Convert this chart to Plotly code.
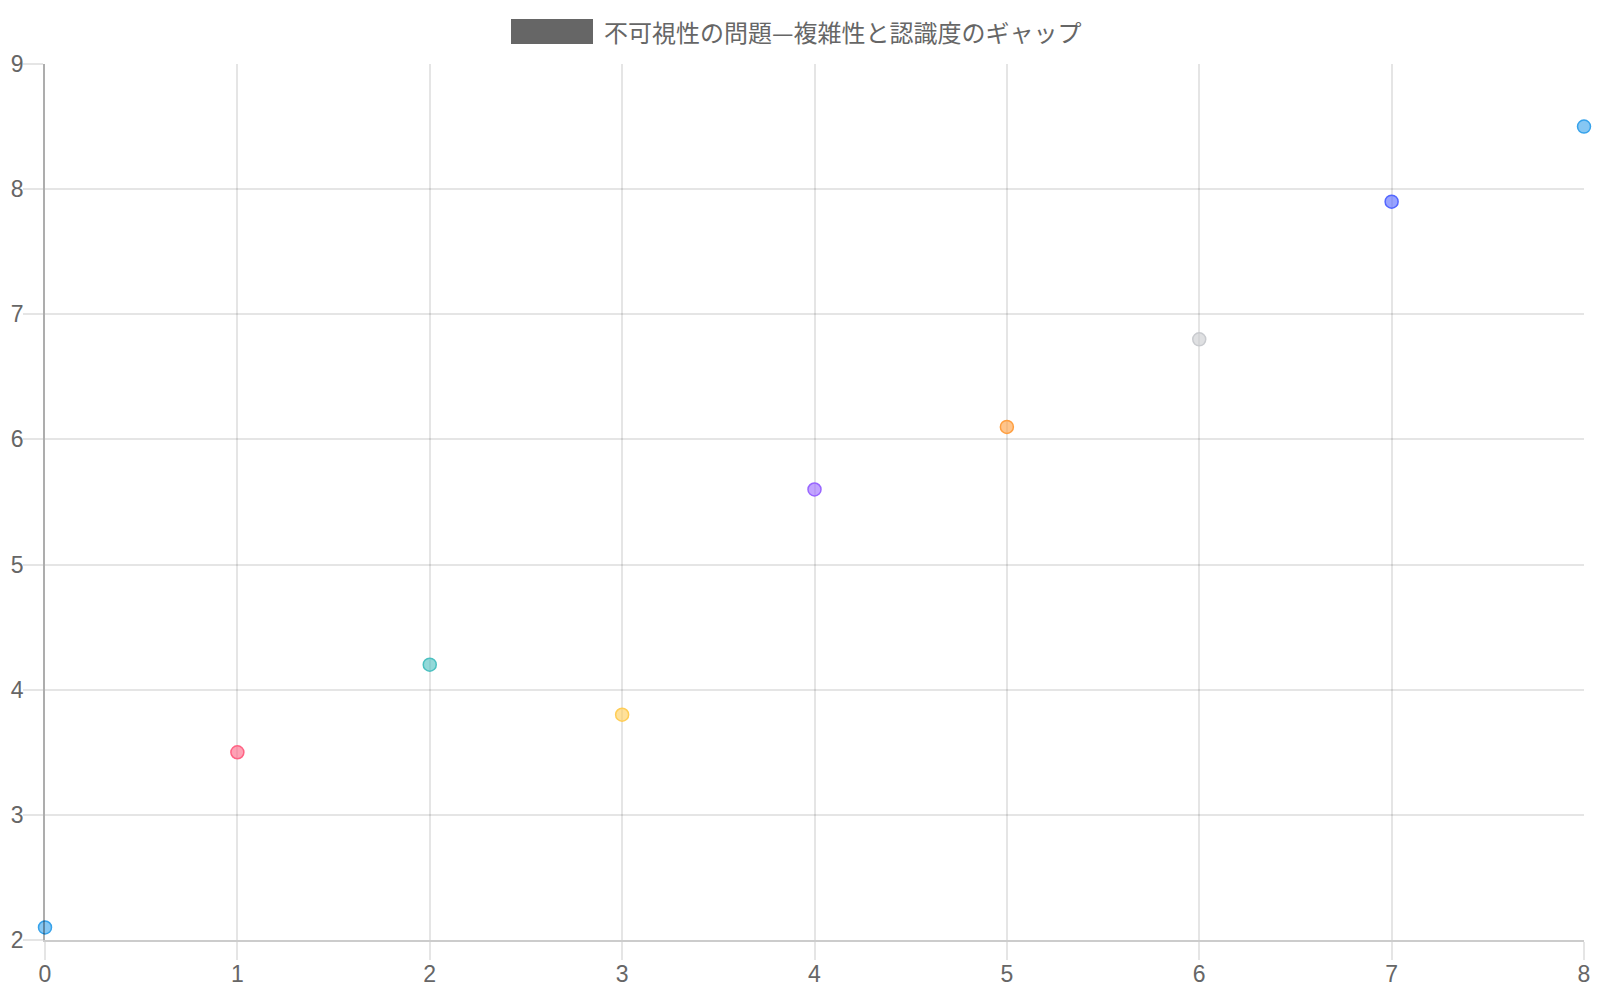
import plotly.graph_objects as go

# data: complexity step vs perceived gap
steps = [0, 1, 2, 3, 4, 5, 6, 7, 8]
gap_scores = [2.1, 3.5, 4.2, 3.8, 5.6, 6.1, 6.8, 7.9, 8.5]
point_rgb = [
    (54, 162, 235), (255, 99, 132), (75, 192, 192), (255, 205, 86),
    (153, 102, 255), (255, 159, 64), (201, 203, 207), (83, 102, 255),
    (54, 162, 235),
]
legend_label = "不可視性の問題—複雑性と認識度のギャップ"

fills = [f"rgba({r},{g},{b},0.6)" for r, g, b in point_rgb]
borders = [f"rgb({r},{g},{b})" for r, g, b in point_rgb]

fig = go.Figure()
fig.add_trace(go.Scatter(
    x=steps, y=gap_scores, mode="markers", showlegend=False,
    marker=dict(size=13, color=fills, line=dict(color=borders, width=1.5)),
    cliponaxis=False,
))

tick_font = dict(family="Liberation Sans, Arial, sans-serif", size=23, color="#666666")
grid = "rgba(0,0,0,0.1)"

fig.update_xaxes(
    range=[0, 8], dtick=1, showgrid=True, gridcolor=grid, gridwidth=1.5,
    ticks="outside", ticklen=18, tickwidth=1.5, tickcolor=grid, tickfont=tick_font,
    showline=True, linecolor="rgba(0,0,0,0.2)", linewidth=1.5, zeroline=False,
    ticklabelstandoff=-5, automargin=False,
)
fig.update_yaxes(
    range=[2, 9], dtick=1, showgrid=True, gridcolor=grid, gridwidth=1.5,
    ticks="outside", ticklen=20, tickwidth=1.5, tickcolor=grid, tickfont=tick_font,
    showline=True, linecolor="rgba(0,0,0,0.32)", linewidth=1.5, zeroline=False,
    ticklabelstandoff=-5, automargin=False,
)

# chart.js style legend drawn by hand (plot area spans 45..1584 x 64..940 on the page)
fig.add_shape(type="rect", xref="paper", yref="paper",
              x0=(511 - 45) / 1539, x1=(593 - 45) / 1539,
              y0=(940 - 44) / 876, y1=(940 - 19) / 876,
              fillcolor="#666666", line=dict(color="#666666", width=0))
fig.add_annotation(
    text=legend_label, xref="paper", yref="paper",
    x=(602 - 45) / 1539, y=(940 - 31.5) / 876, xanchor="left", yanchor="middle",
    showarrow=False,
    font=dict(family="Noto Sans CJK JP, sans-serif", size=24, color="#666666"),
)

# the page body adds an 8px margin, so size the figure to fit inside the window
fig.update_layout(
    width=1584, height=984,
    margin=dict(l=37, r=8, t=56, b=52),
    paper_bgcolor="white", plot_bgcolor="white",
)

fig.write_html("out.html")
